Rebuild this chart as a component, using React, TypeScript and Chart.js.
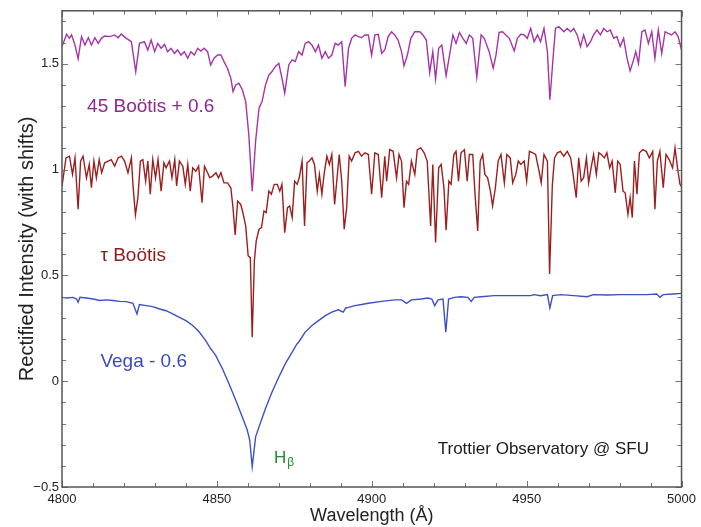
import React, { useEffect, useRef } from "react";
import { Chart, registerables } from "chart.js";

Chart.register(...registerables);

// ---------------- data (wavelength in Å, rectified intensity with shifts) ----------------
const boo45Wave = [
  4800.0, 4801.5, 4802.4, 4803.1, 4804.2, 4805.2, 4806.3, 4807.4, 4808.5, 4809.5, 4810.6, 4811.7, 4812.7, 4813.8,
  4815.4, 4817.0, 4818.1, 4819.1, 4820.8, 4822.4, 4823.8, 4825.0, 4826.6, 4827.7, 4828.8, 4829.9, 4830.9, 4832.0,
  4833.1, 4834.1, 4835.2, 4836.3, 4837.3, 4838.4, 4839.5, 4840.6, 4841.6, 4842.7, 4843.8, 4844.8, 4845.9, 4847.0,
  4848.0, 4849.1, 4850.2, 4851.3, 4852.3, 4853.4, 4854.5, 4855.2, 4856.1, 4857.1, 4858.2, 4859.3, 4860.3, 4861.4,
  4862.5, 4863.6, 4864.6, 4865.7, 4866.8, 4867.8, 4868.9, 4870.0, 4871.0, 4871.9, 4873.2, 4874.3, 4875.3, 4876.4,
  4877.5, 4878.5, 4879.6, 4880.7, 4881.8, 4882.8, 4883.9, 4885.0, 4886.0, 4887.1, 4888.2, 4889.2, 4890.3, 4891.4,
  4892.5, 4893.5, 4894.6, 4895.7, 4896.7, 4897.8, 4898.9, 4899.95, 4901.0, 4902.1, 4903.2, 4904.2, 4905.3, 4906.4,
  4907.4, 4908.5, 4909.6, 4910.4, 4911.5, 4912.6, 4913.9, 4915.5, 4916.5, 4917.6, 4918.7, 4919.7, 4920.6, 4921.6,
  4922.6, 4924.0, 4925.1, 4926.2, 4927.2, 4928.3, 4929.4, 4930.5, 4931.5, 4932.6, 4933.9, 4935.3, 4936.3, 4937.9,
  4939.2, 4940.1, 4941.1, 4942.2, 4943.3, 4944.4, 4946.0, 4947.0, 4948.1, 4949.2, 4950.2, 4951.3, 4952.4, 4953.5,
  4954.5, 4955.6, 4956.7, 4957.5, 4958.6, 4959.3, 4960.4, 4962.0, 4963.1, 4964.2, 4965.2, 4966.3, 4967.4, 4968.4,
  4969.5, 4970.6, 4971.6, 4972.7, 4973.8, 4974.9, 4975.9, 4977.0, 4978.1, 4979.1, 4980.2, 4981.3, 4982.4, 4983.4,
  4984.5, 4985.2, 4986.1, 4987.2, 4988.2, 4989.3, 4990.4, 4991.4, 4992.5, 4993.6, 4994.7, 4995.7, 4996.8, 4997.9,
  4998.9, 5000.0,
];
const boo45Flux = [
  1.581, 1.639, 1.620, 1.636, 1.588, 1.523, 1.628, 1.588, 1.623, 1.588, 1.623, 1.596, 1.620, 1.631,
  1.628, 1.636, 1.623, 1.640, 1.620, 1.604, 1.463, 1.596, 1.604, 1.565, 1.612, 1.557, 1.596, 1.573,
  1.592, 1.557, 1.573, 1.549, 1.565, 1.541, 1.557, 1.526, 1.557, 1.541, 1.573, 1.560, 1.573, 1.557,
  1.494, 1.526, 1.541, 1.541, 1.510, 1.479, 1.432, 1.369, 1.400, 1.408, 1.377, 1.322, 1.165, 0.898,
  1.134, 1.290, 1.322, 1.400, 1.447, 1.463, 1.487, 1.502, 1.432, 1.361, 1.494, 1.518, 1.510, 1.557,
  1.541, 1.596, 1.604, 1.588, 1.557, 1.588, 1.526, 1.557, 1.526, 1.541, 1.596, 1.588, 1.604, 1.392,
  1.573, 1.620, 1.636, 1.628, 1.623, 1.636, 1.636, 1.541, 1.636, 1.639, 1.549, 1.565, 1.628, 1.651,
  1.636, 1.612, 1.557, 1.490, 1.541, 1.620, 1.651, 1.651, 1.636, 1.612, 1.458, 1.557, 1.428, 1.573,
  1.588, 1.444, 1.541, 1.636, 1.596, 1.648, 1.620, 1.596, 1.636, 1.620, 1.436, 1.636, 1.620, 1.557,
  1.479, 1.541, 1.648, 1.651, 1.636, 1.620, 1.560, 1.620, 1.639, 1.636, 1.620, 1.667, 1.604, 1.636,
  1.604, 1.667, 1.557, 1.330, 1.541, 1.667, 1.675, 1.651, 1.667, 1.651, 1.667, 1.636, 1.581, 1.636,
  1.581, 1.604, 1.636, 1.659, 1.636, 1.667, 1.651, 1.659, 1.620, 1.628, 1.581, 1.620, 1.526, 1.466,
  1.518, 1.557, 1.502, 1.651, 1.659, 1.596, 1.651, 1.526, 1.659, 1.549, 1.651, 1.643, 1.636, 1.651,
  1.628, 1.565,
];

const tauWave = [
  4800.0, 4801.3, 4802.4, 4803.4, 4804.2, 4805.2, 4806.0, 4806.8, 4807.9, 4808.8, 4809.5, 4810.3, 4811.1, 4812.0,
  4812.8, 4813.8, 4814.9, 4815.9, 4817.0, 4818.1, 4819.2, 4820.2, 4821.3, 4822.4, 4822.9, 4823.7, 4824.5, 4825.3,
  4826.1, 4827.0, 4827.7, 4828.5, 4829.3, 4830.2, 4831.0, 4832.0, 4832.9, 4833.6, 4834.7, 4835.5, 4836.4, 4837.0,
  4837.9, 4839.0, 4839.8, 4840.6, 4841.4, 4842.2, 4843.2, 4844.1, 4845.2, 4846.0, 4847.0, 4847.7, 4848.6, 4849.7,
  4850.5, 4851.3, 4852.3, 4853.4, 4854.5, 4855.2, 4855.9, 4856.7, 4857.7, 4858.4, 4859.3, 4860.1, 4860.8, 4861.4,
  4862.1, 4862.7, 4863.6, 4864.4, 4865.2, 4865.9, 4866.8, 4867.6, 4868.5, 4869.5, 4870.3, 4871.0, 4871.9, 4872.8,
  4873.5, 4874.3, 4875.1, 4875.9, 4876.6, 4877.5, 4878.3, 4879.1, 4879.8, 4880.7, 4881.5, 4882.4, 4883.1, 4883.9,
  4884.6, 4885.5, 4886.3, 4887.1, 4888.0, 4888.7, 4889.5, 4890.3, 4891.1, 4891.9, 4892.7, 4893.5, 4894.6, 4895.7,
  4896.7, 4897.8, 4898.9, 4899.95, 4901.0, 4902.1, 4903.2, 4904.2, 4904.8, 4905.8, 4906.9, 4908.0, 4908.8, 4909.6,
  4910.4, 4911.2, 4911.9, 4912.8, 4913.9, 4914.7, 4915.8, 4916.9, 4917.9, 4919.0, 4919.7, 4920.6, 4921.6, 4922.4,
  4923.3, 4924.0, 4924.9, 4925.6, 4926.5, 4927.2, 4928.0, 4928.8, 4929.9, 4930.8, 4931.5, 4932.6, 4933.3, 4934.2,
  4935.0, 4935.8, 4936.5, 4937.4, 4938.3, 4939.0, 4939.9, 4940.8, 4941.7, 4942.8, 4943.6, 4944.7, 4945.5, 4946.5,
  4947.3, 4948.1, 4949.2, 4950.0, 4950.9, 4952.0, 4952.9, 4954.0, 4954.7, 4955.6, 4956.7, 4957.4, 4958.3, 4959.0,
  4959.9, 4960.9, 4962.0, 4963.1, 4964.2, 4965.0, 4966.0, 4966.8, 4967.6, 4968.4, 4969.3, 4970.0, 4970.8, 4971.6,
  4972.5, 4973.3, 4974.1, 4975.1, 4975.9, 4976.8, 4977.6, 4978.6, 4979.4, 4980.2, 4981.1, 4981.8, 4982.7, 4983.4,
  4984.1, 4984.8, 4985.6, 4986.4, 4987.5, 4988.6, 4989.6, 4990.7, 4991.4, 4992.2, 4993.0, 4994.1, 4995.0, 4996.0,
  4997.1, 4997.9, 4998.7, 4999.5, 5000.0,
];
const tauFlux = [
  0.922, 1.055, 1.063, 0.977, 1.055, 0.812, 1.040, 1.063, 0.961, 1.024, 0.914, 1.040, 0.961, 1.047,
  0.985, 1.032, 1.040, 1.047, 1.016, 1.055, 1.063, 1.040, 0.985, 1.055, 0.930, 0.785, 0.867, 1.040,
  1.047, 0.945, 1.040, 0.883, 1.047, 0.961, 1.047, 0.898, 1.032, 1.008, 1.040, 0.961, 1.047, 0.922,
  1.040, 1.016, 0.930, 1.024, 0.898, 1.008, 0.992, 1.016, 0.843, 1.016, 0.985, 0.961, 0.969, 0.985,
  0.961, 0.985, 0.937, 0.937, 0.914, 0.820, 0.691, 0.851, 0.835, 0.796, 0.733, 0.592, 0.584, 0.208,
  0.569, 0.663, 0.718, 0.726, 0.804, 0.796, 0.898, 0.883, 0.930, 0.930, 0.898, 0.930, 0.702, 0.820,
  0.828, 0.773, 0.945, 0.930, 0.961, 1.040, 0.733, 1.032, 1.040, 1.055, 1.024, 0.898, 0.977, 0.883,
  0.977, 1.063, 1.024, 1.071, 0.835, 0.945, 1.071, 0.945, 0.718, 0.820, 1.063, 1.040, 1.079, 1.086,
  1.063, 1.079, 1.071, 0.883, 1.079, 1.071, 0.867, 1.063, 0.945, 1.094, 1.086, 0.961, 1.071, 1.040,
  0.820, 0.945, 0.930, 1.040, 0.977, 1.094, 1.102, 1.079, 1.040, 0.733, 1.024, 0.655, 1.008, 1.024,
  0.914, 0.713, 0.945, 0.930, 1.071, 1.086, 0.945, 1.079, 1.094, 0.945, 1.071, 1.071, 0.890, 0.710,
  1.040, 1.071, 0.977, 0.961, 0.898, 0.828, 0.914, 1.040, 1.071, 0.937, 1.071, 1.055, 0.937, 0.977,
  1.040, 1.024, 1.040, 0.945, 1.086, 1.079, 1.071, 0.992, 0.937, 1.071, 1.040, 0.506, 0.930, 1.055,
  1.079, 1.086, 1.063, 1.086, 1.055, 0.977, 0.867, 1.055, 0.945, 0.961, 1.055, 0.937, 1.008, 1.071,
  0.977, 1.079, 1.071, 1.055, 1.079, 1.008, 1.040, 0.890, 1.040, 1.024, 0.898, 0.890, 0.788, 0.867,
  0.773, 1.040, 0.883, 1.079, 1.094, 1.086, 1.055, 1.086, 0.812, 1.040, 1.086, 0.914, 1.071, 1.047,
  1.008, 1.102, 1.008, 0.930, 0.920,
];

const vegaWave = [
  4800.0, 4801.5, 4803.6, 4804.7, 4805.2, 4805.8, 4807.9, 4810.1, 4812.2, 4814.3, 4816.5, 4818.6, 4820.8, 4822.9,
  4824.2, 4825.0, 4827.2, 4829.3, 4831.5, 4833.6, 4835.7, 4837.9, 4840.0, 4842.2, 4844.3, 4846.4, 4848.0, 4848.6,
  4849.6, 4851.8, 4853.9, 4856.1, 4858.2, 4859.8, 4860.6, 4861.1, 4861.4, 4861.9, 4862.5, 4863.6, 4865.7, 4867.8,
  4870.0, 4872.1, 4874.3, 4875.9, 4876.4, 4878.5, 4880.7, 4882.8, 4885.0, 4887.1, 4889.2, 4890.8, 4891.6, 4892.5,
  4894.6, 4896.7, 4898.9, 4903.2, 4907.4, 4909.6, 4911.2, 4912.8, 4916.0, 4918.1, 4919.4, 4920.3, 4921.4, 4923.0,
  4923.9, 4924.8, 4926.7, 4928.8, 4931.0, 4932.1, 4933.1, 4935.3, 4939.5, 4943.8, 4948.1, 4951.3, 4952.4, 4954.5,
  4956.7, 4957.5, 4958.4, 4961.0, 4965.2, 4969.5, 4971.6, 4975.9, 4980.2, 4984.5, 4988.8, 4992.0, 4993.0, 4994.1,
  4997.3, 5000.0,
];
const vegaFlux = [
  0.396, 0.393, 0.396, 0.388, 0.373, 0.396, 0.393, 0.388, 0.381, 0.384, 0.381, 0.377, 0.376, 0.368,
  0.318, 0.362, 0.357, 0.352, 0.341, 0.333, 0.318, 0.302, 0.286, 0.263, 0.232, 0.192, 0.153, 0.142,
  0.122, 0.059, -0.012, -0.090, -0.169, -0.231, -0.278, -0.357, -0.404, -0.341, -0.263, -0.216, -0.129, -0.051,
  0.020, 0.083, 0.137, 0.177, 0.184, 0.232, 0.263, 0.286, 0.310, 0.326, 0.337, 0.326, 0.346, 0.349,
  0.357, 0.362, 0.368, 0.377, 0.384, 0.384, 0.368, 0.384, 0.388, 0.393, 0.388, 0.357, 0.384, 0.388,
  0.232, 0.388, 0.396, 0.399, 0.396, 0.377, 0.396, 0.399, 0.404, 0.404, 0.404, 0.404, 0.409, 0.404,
  0.409, 0.346, 0.404, 0.409, 0.404, 0.399, 0.409, 0.407, 0.409, 0.409, 0.409, 0.412, 0.396, 0.409,
  0.412, 0.415,
];

const xTickValues = [4800, 4850, 4900, 4950, 5000];
const yTickValues = [-0.5, 0, 0.5, 1, 1.5];

const annText = ["45 Boötis + 0.6", "τ Boötis", "Vega - 0.6", "Trottier Observatory @ SFU"];
const annWave = [4808.1, 4812.4, 4812.4, 4921.3];
const annFlux = [1.295, 0.592, 0.09, -0.321];
const annColor = ["#8e2a8e", "#8b1c1c", "#3a4bb4", "#1a1a1a"];
const annSize = [19, 19, 19, 17];
const hbetaPos = [4868.4, -0.363];

const FONT = "'Liberation Sans', Arial, Helvetica, sans-serif";

const toPoints = (xs: number[], ys: number[]) => xs.map((x, i) => ({ x, y: ys[i] }));

const framePlugin = {
  id: "frameTicks",
  afterDraw(chart: any) {
    const { ctx, chartArea: a, scales } = chart;
    const xs = scales.x;
    const ys = scales.y;
    ctx.save();
    ctx.strokeStyle = "#777";
    ctx.lineWidth = 1;
    ctx.beginPath();
    for (let i = Math.round(xs.min / 10); i <= Math.round(xs.max / 10); i++) {
      const px = Math.round(xs.getPixelForValue(i * 10)) + 0.5;
      const len = i % 5 === 0 ? 6 : 4;
      ctx.moveTo(px, a.bottom);
      ctx.lineTo(px, a.bottom - len);
      ctx.moveTo(px, a.top);
      ctx.lineTo(px, a.top + len);
    }
    for (let i = Math.ceil(ys.min * 10); i <= Math.floor(ys.max * 10); i++) {
      const py = Math.round(ys.getPixelForValue(i / 10)) + 0.5;
      const len = i % 5 === 0 ? 6 : 4;
      ctx.moveTo(a.left, py);
      ctx.lineTo(a.left + len, py);
      ctx.moveTo(a.right, py);
      ctx.lineTo(a.right - len, py);
    }
    ctx.stroke();
    ctx.strokeStyle = "#555";
    ctx.lineWidth = 1.5;
    ctx.strokeRect(a.left, a.top, a.right - a.left, a.bottom - a.top);
    ctx.restore();
  },
  afterDatasetsDraw(chart: any) {
    const { ctx, scales } = chart;
    const xs = scales.x;
    const ys = scales.y;
    ctx.save();
    ctx.textBaseline = "middle";
    ctx.textAlign = "left";
    annText.forEach((t, i) => {
      ctx.fillStyle = annColor[i];
      ctx.font = `${annSize[i]}px ${FONT}`;
      ctx.fillText(t, xs.getPixelForValue(annWave[i]), ys.getPixelForValue(annFlux[i]));
    });
    const hx = xs.getPixelForValue(hbetaPos[0]);
    const hy = ys.getPixelForValue(hbetaPos[1]);
    ctx.fillStyle = "#23892f";
    ctx.font = `17px ${FONT}`;
    ctx.fillText("H", hx, hy);
    const w = ctx.measureText("H").width;
    ctx.font = `12px ${FONT}`;
    ctx.fillText("β", hx + w + 1, hy + 5);
    ctx.restore();
  },
};

export default function App() {
  const ref = useRef<HTMLCanvasElement | null>(null);
  useEffect(() => {
    if (!ref.current) return;
    const chart = new Chart(ref.current, {
      type: "line",
      data: {
        datasets: [
          { label: "45 Boötis + 0.6", data: toPoints(boo45Wave, boo45Flux), borderColor: "#a535a5" },
          { label: "τ Boötis", data: toPoints(tauWave, tauFlux), borderColor: "#9c1f1f" },
          { label: "Vega - 0.6", data: toPoints(vegaWave, vegaFlux), borderColor: "#3c50c4" },
        ].map((d) => ({ ...d, borderWidth: 1.4, pointRadius: 0, tension: 0, fill: false })),
      },
      options: {
        animation: false,
        responsive: false,
        devicePixelRatio: 1,
        layout: { padding: { top: 9, right: 16, left: 0, bottom: 0 } },
        plugins: { legend: { display: false }, tooltip: { enabled: false } },
        scales: {
          x: {
            type: "linear",
            min: 4800,
            max: 5000,
            afterBuildTicks: (s: any) => {
              s.ticks = xTickValues.map((v) => ({ value: v }));
            },
            afterFit: (s: any) => {
              s.height = 40;
            },
            grid: { display: false, drawTicks: false },
            border: { display: false },
            ticks: {
              color: "#222",
              font: { family: FONT, size: 13 },
              padding: 5,
              maxRotation: 0,
              callback: (v: any) => String(v),
            },
            title: {
              display: true,
              text: "Wavelength (Å)",
              color: "#222",
              font: { family: FONT, size: 18 },
              padding: { top: 0, bottom: 0 },
            },
          },
          y: {
            type: "linear",
            min: -0.5,
            max: 1.75,
            afterBuildTicks: (s: any) => {
              s.ticks = yTickValues.map((v) => ({ value: v }));
            },
            afterFit: (s: any) => {
              s.width = 62;
            },
            grid: { display: false, drawTicks: false },
            border: { display: false },
            ticks: {
              color: "#222",
              font: { family: FONT, size: 13 },
              padding: 3,
              callback: (v: any) => (v < 0 ? "−" + String(Math.abs(v)) : String(v)),
            },
            title: {
              display: true,
              text: "Rectified Intensity (with shifts)",
              color: "#222",
              font: { family: FONT, size: 20 },
              padding: { top: 15, bottom: 0 },
            },
          },
        },
      },
      plugins: [framePlugin],
    });
    return () => chart.destroy();
  }, []);
  return (
    <div style={{ position: "fixed", left: 0, top: 0, width: 701, height: 527, background: "#fff" }}>
      <canvas ref={ref} width={701} height={527} />
    </div>
  );
}
